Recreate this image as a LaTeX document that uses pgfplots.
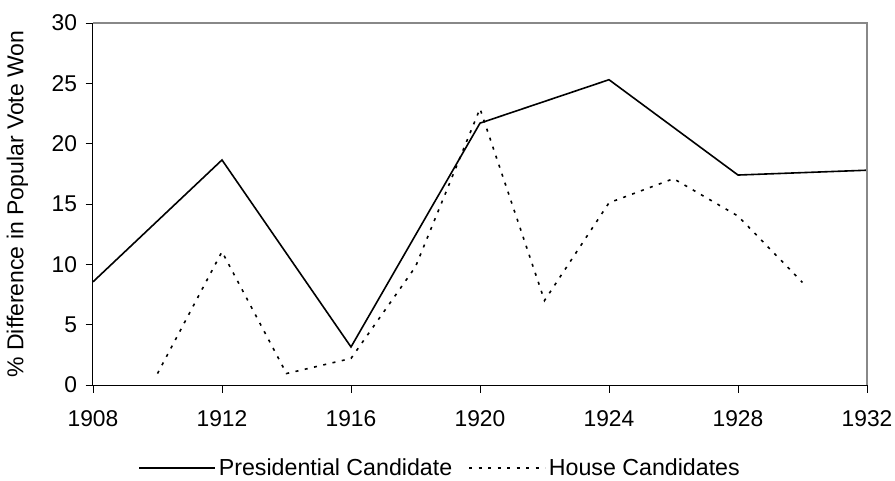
\documentclass[border=0pt]{standalone}
\usepackage{fontspec}
\setmainfont{Liberation Sans}
\usepackage{pgfplots}
\pgfplotsset{compat=1.18}
\begin{document}
\begin{tikzpicture}
\begin{axis}[
  name=ax,
  scale only axis,
  width=774bp, height=362bp,
  xmin=1908, xmax=1932, ymin=0, ymax=30,
  xtick={1908,1912,...,1932},
  ytick={0,5,...,30},
  axis lines=left,
  axis line style={-, black, line width=1bp},
  tick align=outside,
  major tick length=7.5bp,
  tick style={black, line width=0.8bp},
  /pgf/number format/1000 sep={},
  /pgf/number format/assume math mode=true,
  tick label style={font=\fontsize{22.8bp}{27bp}\selectfont},
  xticklabel style={yshift=-15bp},
  yticklabel style={xshift=-5bp},
  ylabel={\% Difference in Popular Vote Won},
  every axis y label/.style={at={(axis description cs:-0.0975,0.5)},rotate=90,anchor=center,font=\fontsize{23bp}{27bp}\selectfont},
  clip=false,
  legend style={draw=none, fill=none, at={(0.449,-0.229)}, anchor=center,
    font=\fontsize{23.2bp}{27bp}\selectfont, legend columns=2,
    nodes={inner xsep=3bp, inner ysep=1bp},
    /tikz/every even column/.append style={column sep=13bp},
    inner xsep=0pt, inner ysep=0pt},
  legend image code/.code={\draw[#1] (0bp,0bp) -- (76bp,0bp);},
]
\addplot[black, line width=1.6bp] coordinates {
(1908,8.55)(1912,18.65)(1916,3.15)(1920,21.7)(1924,25.3)(1928,17.4)(1932,17.8)};
\addlegendentry{Presidential Candidate}
\addplot[black, line width=1.6bp, dash pattern=on 3bp off 6.5bp] coordinates {
(1910,0.95)(1912,11.05)(1914,0.95)(1916,2.2)(1918,9.8)(1920,22.9)(1922,7.0)(1924,15.1)(1926,17.1)(1928,14.0)(1930,8.5)};
\addlegendentry{House Candidates}
\draw[color={rgb,255:red,136;green,136;blue,136}, line width=1.2bp] (rel axis cs:0,1) -- (rel axis cs:1,1) -- (rel axis cs:1,0);
\end{axis}
\pgfresetboundingbox
\path ([shift={(-93bp,-96bp)}]ax.south west) rectangle ([shift={(28bp,23bp)}]ax.north east);
\end{tikzpicture}
\end{document}
